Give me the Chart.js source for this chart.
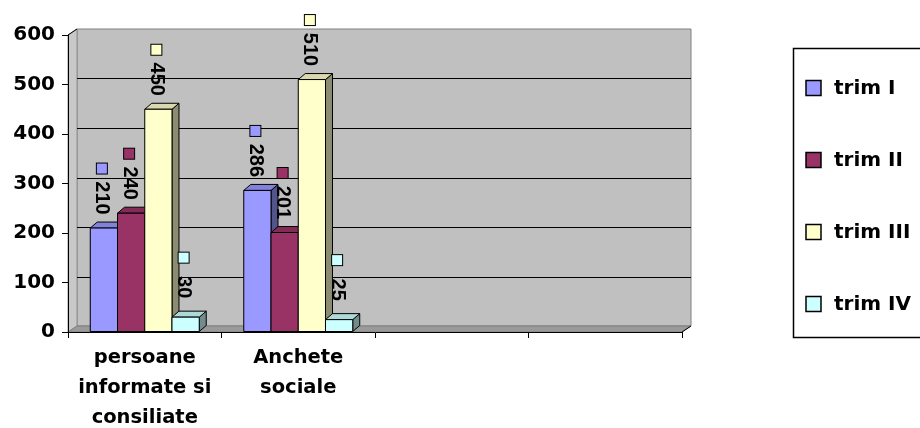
<!DOCTYPE html>
<html>
<head>
<meta charset="utf-8">
<script src="https://cdn.jsdelivr.net/npm/chart.js@4.4.0/dist/chart.umd.min.js"></script>
<style>
  html, body { margin: 0; padding: 0; background: #fff; }
  #wrap { width: 920px; height: 428px; }
</style>
</head>
<body>
<div id="wrap"><canvas id="chart"></canvas></div>
<script>
// data
var categories = [["persoane", "informate si", "consiliate"], ["Anchete", "sociale"], "", ""];
var seriesNames = ["trim I", "trim II", "trim III", "trim IV"];
var trim1 = [210, 286, null, null];
var trim2 = [240, 201, null, null];
var trim3 = [450, 510, null, null];
var trim4 = [30, 25, null, null];
var seriesColors = ["#9999FF", "#993366", "#FFFFCC", "#CCFFFF"];
var yMin = 0, yMax = 600, yStep = 100;

var WALL_DX = 9, WALL_DY = -6;   // depth of the back wall
var BAR_DX = 7, BAR_DY = -6;     // depth of each bar

function shade(hex, f) {
    var n = parseInt(hex.slice(1), 16);
    var r = Math.round(((n >> 16) & 255) * f);
    var g = Math.round(((n >> 8) & 255) * f);
    var b = Math.round((n & 255) * f);
    return "rgb(" + r + "," + g + "," + b + ")";
}

function poly(ctx, pts, fill, stroke) {
    ctx.beginPath();
    ctx.moveTo(pts[0][0], pts[0][1]);
    for (var i = 1; i < pts.length; i++) ctx.lineTo(pts[i][0], pts[i][1]);
    ctx.closePath();
    if (fill) { ctx.fillStyle = fill; ctx.fill(); }
    if (stroke) { ctx.strokeStyle = stroke; ctx.stroke(); }
}

var excel3d = {
    id: "excel3d",
    beforeDraw: function (chart) {
        var ctx = chart.ctx, a = chart.chartArea, ys = chart.scales.y;
        var L = a.left, R = a.right, T = a.top, B = a.bottom;
        ctx.save();
        ctx.lineWidth = 1;
        // back wall
        poly(ctx, [[L + WALL_DX, T + WALL_DY], [R + WALL_DX, T + WALL_DY], [R + WALL_DX, B + WALL_DY], [L + WALL_DX, B + WALL_DY]], "#c0c0c0", "#808080");
        // left side wall
        poly(ctx, [[L, T], [L + WALL_DX, T + WALL_DY], [L + WALL_DX, B + WALL_DY], [L, B]], "#c8c8c8", "#909090");
        // floor
        poly(ctx, [[L, B], [L + WALL_DX, B + WALL_DY], [R + WALL_DX, B + WALL_DY], [R, B]], "#9a9a9a", "#808080");
        // gridlines on the back wall
        ctx.strokeStyle = "#000";
        ys.ticks.forEach(function (t) {
            if (t.value <= yMin || t.value >= yMax) return;
            var y = Math.round(ys.getPixelForValue(t.value) + WALL_DY) + 0.5;
            ctx.beginPath();
            ctx.moveTo(L + WALL_DX, y);
            ctx.lineTo(R + WALL_DX, y);
            ctx.stroke();
        });
        // diagonal edges of the axes
        ctx.beginPath();
        ctx.moveTo(L, T); ctx.lineTo(L + WALL_DX, T + WALL_DY);
        ctx.moveTo(R, B); ctx.lineTo(R + WALL_DX, B + WALL_DY);
        ctx.stroke();
        ctx.restore();
    },
    afterDatasetsDraw: function (chart) {
        var ctx = chart.ctx;
        ctx.save();
        ctx.lineWidth = 1;
        ctx.strokeStyle = "#000";
        chart.data.datasets.forEach(function (ds, i) {
            var meta = chart.getDatasetMeta(i);
            meta.data.forEach(function (bar, j) {
                if (ds.data[j] == null) return;
                var p = bar.getProps(["x", "y", "base", "width"], true);
                var l = p.x - p.width / 2, r = p.x + p.width / 2, t = p.y, b = p.base;
                poly(ctx, [[r, b], [r, t], [r + BAR_DX, t + BAR_DY], [r + BAR_DX, b + BAR_DY]], shade(ds.backgroundColor, 0.55), "#000");
                poly(ctx, [[l, t], [r, t], [r + BAR_DX, t + BAR_DY], [l + BAR_DX, t + BAR_DY]], shade(ds.backgroundColor, 0.85), "#000");
                poly(ctx, [[l, t], [r, t], [r, b], [l, b]], ds.backgroundColor, "#000");
            });
        });
        ctx.restore();
    },
    afterDraw: function (chart) {
        var ctx = chart.ctx;
        ctx.save();
        // data labels: rotated value with a small key square above it
        chart.data.datasets.forEach(function (ds, i) {
            var meta = chart.getDatasetMeta(i);
            meta.data.forEach(function (bar, j) {
                if (ds.data[j] == null) return;
                var x = bar.x - 2;
                ctx.fillStyle = ds.backgroundColor;
                ctx.fillRect(x - 5.5, bar.y - 65, 11, 11);
                ctx.strokeStyle = "#000";
                ctx.lineWidth = 1;
                ctx.strokeRect(x - 5.5, bar.y - 65, 11, 11);
                ctx.save();
                ctx.translate(x, bar.y - 30);
                ctx.rotate(Math.PI / 2);
                ctx.font = "bold 20px 'Liberation Sans', Arial, sans-serif";
                ctx.textAlign = "center";
                ctx.textBaseline = "middle";
                ctx.fillStyle = "#000";
                ctx.fillText(String(ds.data[j]), 0, 0);
                ctx.restore();
            });
        });
        // legend box
        ctx.lineWidth = 1.5;
        ctx.strokeStyle = "#000";
        ctx.strokeRect(793.5, 48.5, 140, 289);
        ctx.font = "bold 20px 'DejaVu Sans', sans-serif";
        ctx.textBaseline = "middle";
        ctx.textAlign = "left";
        chart.data.datasets.forEach(function (ds, i) {
            var cy = 88 + i * 72;
            ctx.fillStyle = ds.backgroundColor;
            ctx.fillRect(806, cy - 7.5, 15, 15);
            ctx.lineWidth = 1.5;
            ctx.strokeRect(806, cy - 7.5, 15, 15);
            ctx.fillStyle = "#000";
            ctx.fillText(ds.label, 834, cy + 1);
        });
        ctx.restore();
    }
};

var datasets = [trim1, trim2, trim3, trim4].map(function (vals, i) {
    return {
        label: seriesNames[i],
        data: vals,
        backgroundColor: seriesColors[i],
        borderColor: "#000",
        borderWidth: 1
    };
});

new Chart(document.getElementById("chart"), {
    type: "bar",
    data: { labels: categories, datasets: datasets },
    plugins: [excel3d],
    options: {
        responsive: true,
        maintainAspectRatio: false,
        animation: false,
        layout: { padding: { top: 35, right: 238, left: 0, bottom: 0 } },
        datasets: { bar: { categoryPercentage: 0.71, barPercentage: 1 } },
        plugins: { legend: { display: false }, tooltip: { enabled: false } },
        scales: {
            x: {
                grid: { offset: true, drawOnChartArea: false, tickLength: 6, tickColor: "#000" },
                border: { display: true, color: "#000", width: 1 },
                ticks: {
                    color: "#000",
                    padding: 5,
                    maxRotation: 0,
                    autoSkip: false,
                    font: { family: "'DejaVu Sans', sans-serif", weight: "bold", size: 19.5, lineHeight: "30px" }
                },
                afterFit: function (s) { s.height = 96; }
            },
            y: {
                min: yMin,
                max: yMax,
                grid: { drawOnChartArea: false, tickLength: 6, tickColor: "#000" },
                border: { display: true, color: "#000", width: 1 },
                ticks: {
                    stepSize: yStep,
                    color: "#000",
                    padding: 7,
                    font: { family: "'DejaVu Sans', sans-serif", weight: "bold", size: 20 }
                },
                afterFit: function (s) { s.width = 68; }
            }
        }
    }
});
</script>
</body>
</html>
